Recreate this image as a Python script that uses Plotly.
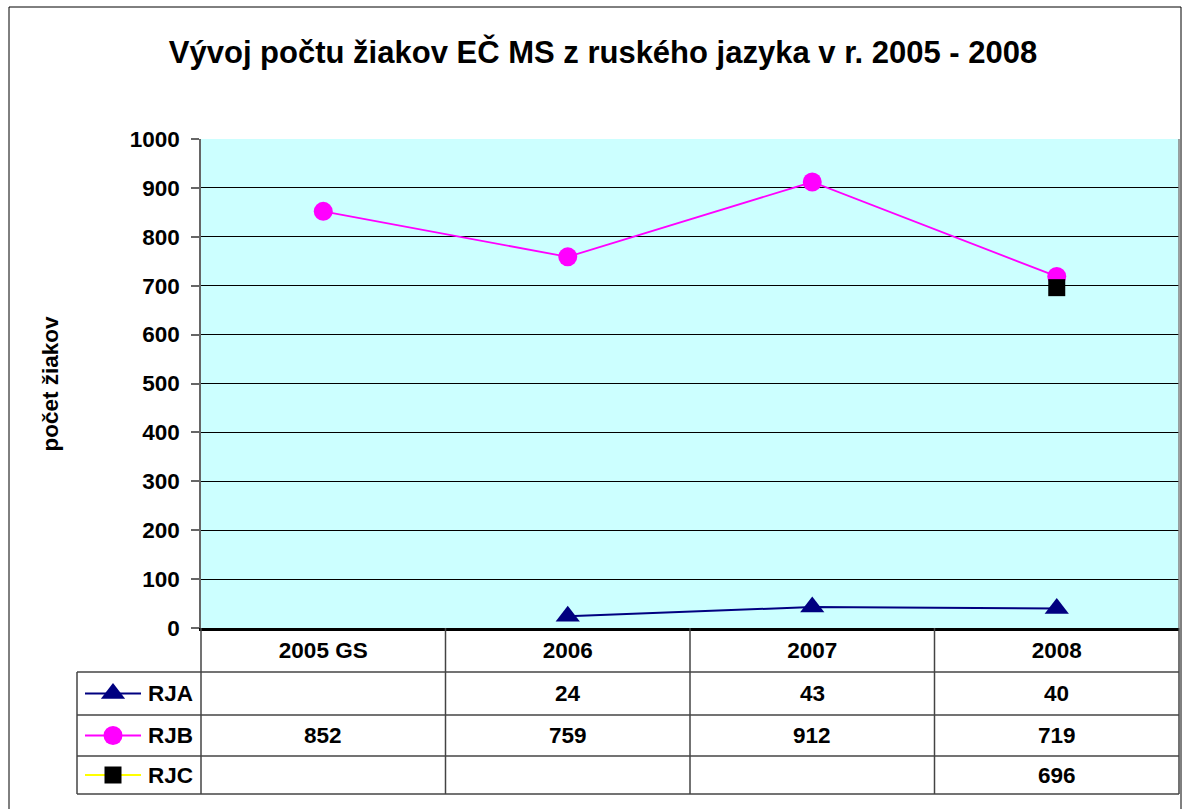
import plotly.graph_objects as go

W, H = 1184, 809

categories = ["2005 GS", "2006", "2007", "2008"]
series_names = ["RJA", "RJB", "RJC"]
rja = [None, 24, 43, 40]
rjb = [852, 759, 912, 719]
rjc = [None, None, None, 696]
y_ticks = [0, 100, 200, 300, 400, 500, 600, 700, 800, 900, 1000]

title = "Vývoj počtu žiakov EČ MS z ruského jazyka v r. 2005 - 2008"
y_title = "počet žiakov"

FONT = "Liberation Sans, Arial, sans-serif"
FS = 22.5

def px(x):
    return x / W

def py(y):
    return 1 - y / H

# plot area in pixels
PL, PR, PT, PB = 201, 1179, 139, 628
TL = 77  # table left
row_lines = [672, 715, 756, 794]

styles = {
    "RJA": dict(line=dict(color="#000080", width=2), marker=dict(symbol="triangle-up", size=21, color="#000080")),
    "RJB": dict(line=dict(color="#FF00FF", width=1.8), marker=dict(symbol="circle", size=19, color="#FF00FF")),
    "RJC": dict(line=dict(color="#FFFF00", width=1.8), marker=dict(symbol="square", size=17, color="#000000")),
}
values = {"RJA": rja, "RJB": rjb, "RJC": rjc}

fig = go.Figure()
for name in series_names:
    fig.add_trace(go.Scatter(x=categories, y=values[name], mode="lines+markers", name=name,
                             connectgaps=False, showlegend=False, **styles[name],
                             xaxis="x", yaxis="y"))

# legend keys inside table (overlay pixel axis)
for i, name in enumerate(series_names):
    yc = (row_lines[i] + row_lines[i + 1]) / 2
    st = styles[name]
    fig.add_trace(go.Scatter(x=[85, 141], y=[yc, yc], mode="lines", line=st["line"],
                             showlegend=False, hoverinfo="skip", xaxis="x2", yaxis="y2"))
    fig.add_trace(go.Scatter(x=[113], y=[yc], mode="markers", marker=st["marker"],
                             showlegend=False, hoverinfo="skip", xaxis="x2", yaxis="y2"))

shapes = []
# cyan plot background
shapes.append(dict(type="rect", xref="paper", yref="paper", x0=px(PL), x1=px(PR), y0=py(PB), y1=py(PT),
                   fillcolor="#CCFFFF", line=dict(width=0), layer="below"))
# outer border
shapes.append(dict(type="rect", xref="paper", yref="paper", x0=px(9), x1=px(1181), y0=py(812), y1=py(7),
                   line=dict(color="#000000", width=1), fillcolor="rgba(0,0,0,0)"))
# right edge of plot area
shapes.append(dict(type="line", xref="paper", yref="paper", x0=px(PR), x1=px(PR), y0=py(PB), y1=py(PT),
                   line=dict(color="#808080", width=1.5)))
# table horizontal lines
for yl in row_lines:
    shapes.append(dict(type="line", xref="paper", yref="paper", x0=px(TL), x1=px(PR), y0=py(yl), y1=py(yl),
                       line=dict(color="#444444", width=1.5)))
# table vertical lines
shapes.append(dict(type="line", xref="paper", yref="paper", x0=px(TL), x1=px(TL), y0=py(row_lines[0]), y1=py(row_lines[-1]),
                   line=dict(color="#444444", width=1.5)))
for xv in [PL, PR]:
    shapes.append(dict(type="line", xref="paper", yref="paper", x0=px(xv), x1=px(xv), y0=py(PB), y1=py(row_lines[-1]),
                       line=dict(color="#444444", width=1.5)))
for k in range(len(categories) - 1):
    shapes.append(dict(type="line", xref="x", yref="paper", x0=k + 0.5, x1=k + 0.5, y0=py(PB), y1=py(row_lines[-1]),
                       line=dict(color="#444444", width=1.5)))

annotations = []
for i, name in enumerate(series_names):
    yc = (row_lines[i] + row_lines[i + 1]) / 2
    annotations.append(dict(text="<b>%s</b>" % name, xref="paper", yref="paper", x=px(146), y=py(yc),
                            xanchor="left", yanchor="middle", showarrow=False,
                            font=dict(family=FONT, size=FS, color="#000000")))
    for j, v in enumerate(values[name]):
        if v is None:
            continue
        annotations.append(dict(text="<b>%d</b>" % v, xref="x", yref="paper", x=j, y=py(yc),
                                xanchor="center", yanchor="middle", showarrow=False,
                                font=dict(family=FONT, size=FS, color="#000000")))
# y axis title
annotations.append(dict(text="<b>%s</b>" % y_title, xref="paper", yref="paper", x=px(50), y=py((PT + PB) / 2),
                        textangle=-90, showarrow=False, xanchor="center", yanchor="middle",
                        font=dict(family=FONT, size=FS, color="#000000")))

fig.update_layout(
    width=W, height=H, autosize=False,
    margin=dict(l=0, r=0, t=0, b=0, pad=0, autoexpand=False),
    paper_bgcolor="#FFFFFF",
    plot_bgcolor="rgba(0,0,0,0)",
    showlegend=False,
    title=dict(text="<b>%s</b>" % title, x=603 / W, xanchor="center", y=py(52), yanchor="middle",
               font=dict(family=FONT, size=31, color="#000000")),
    xaxis=dict(domain=[px(PL), px(PR)], type="category", range=[-0.5, 3.5], showgrid=False,
               showline=True, linecolor="#000000", linewidth=2.5, zeroline=False,
               ticks="", ticklen=0,
               tickfont=dict(family=FONT, size=FS, color="#000000"),
               tickvals=categories, ticktext=["<b>%s</b>" % c for c in categories],
               anchor="y", fixedrange=True, automargin=False),
    yaxis=dict(domain=[py(PB), py(PT)], range=[0, 1000], tickvals=y_ticks,
               ticktext=["<b>%d</b>" % t for t in y_ticks],
               showgrid=True, gridcolor="#000000", gridwidth=1, zeroline=False,
               showline=True, linecolor="#666666", linewidth=1.5,
               ticks="outside", ticklen=8, tickcolor="#666666", tickwidth=1.5,
               ticklabelstandoff=7,
               tickfont=dict(family=FONT, size=FS, color="#000000"),
               anchor="x", fixedrange=True, automargin=False),
    xaxis2=dict(domain=[0, 1], range=[0, W], visible=False, anchor="y2", fixedrange=True, automargin=False),
    yaxis2=dict(domain=[0, 1], range=[H, 0], visible=False, anchor="x2", fixedrange=True, automargin=False),
    shapes=shapes,
    annotations=annotations,
)

fig.write_html("out.html", config={"displayModeBar": False},
               post_script="document.body.style.margin='0';document.body.style.overflow='hidden';")
